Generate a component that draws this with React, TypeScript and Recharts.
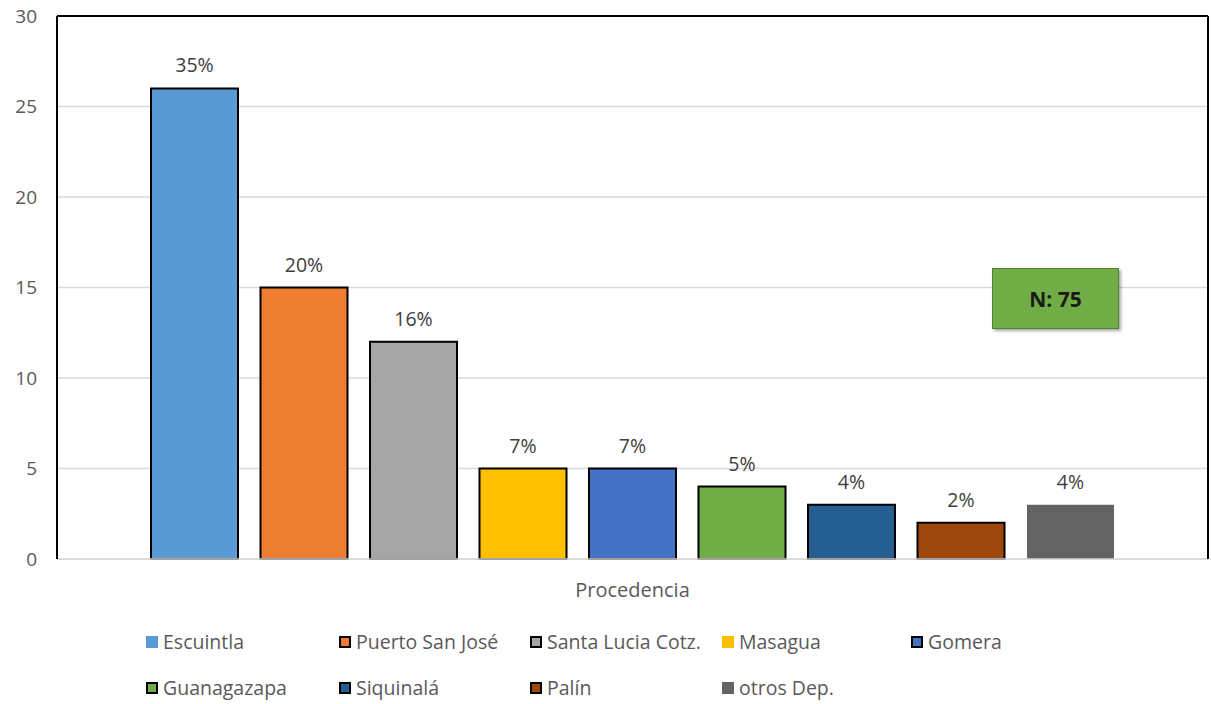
import { BarChart, Bar, XAxis, YAxis, CartesianGrid, Legend, LabelList, ReferenceLine } from "recharts";

const names = ["Escuintla", "Puerto San José", "Santa Lucia Cotz.", "Masagua", "Gomera", "Guanagazapa", "Siquinalá", "Palín", "otros Dep."];
const counts = [26, 15, 12, 5, 5, 4, 3, 2, 3];
const pcts = ["35%", "20%", "16%", "7%", "7%", "5%", "4%", "2%", "4%"];
const colors = ["#5B9BD5", "#ED7D31", "#A5A5A5", "#FFC000", "#4472C4", "#70AD47", "#255E91", "#9E480E", "#636363"];
const barBorder = [true, true, true, true, true, true, true, true, false];
const legendBorder = [false, true, true, false, true, true, true, true, false];
const yTicks = [0, 5, 10, 15, 20, 25, 30];
const category = "Procedencia";

const row: Record<string, string | number> = { name: category };
names.forEach((n, i) => {
  row[`s${i}`] = counts[i];
});
const data = [row];

const font = "'Open Sans', sans-serif";

function LegendBox() {
  const colX = [146, 339, 530, 722, 911];
  return (
    <div style={{ position: "relative", width: 1211, height: 95, fontFamily: font }}>
      {names.map((n, i) => {
        const r = Math.floor(i / 5);
        const c = i % 5;
        return (
          <div
            key={n}
            style={{ position: "absolute", left: colX[c], top: 20 + r * 46, display: "flex", alignItems: "center", whiteSpace: "nowrap", lineHeight: "26px" }}
          >
            <span
              style={{
                display: "inline-block",
                width: 12,
                height: 12,
                background: colors[i],
                boxSizing: "border-box",
                border: legendBorder[i] ? "2px solid #000" : "none",
                marginRight: 5,
              }}
            />
            <span style={{ fontSize: 19.5, color: "#595959" }}>{n}</span>
          </div>
        );
      })}
    </div>
  );
}

export default function App() {
  return (
    <div style={{ position: "absolute", left: 0, top: 0, width: 1211, height: 704, background: "#fff" }}>
      <BarChart
        width={1211}
        height={704}
        data={data}
        margin={{ top: 16, right: 0, bottom: 0, left: 0 }}
        barSize={87}
        barGap={22.5}
        barCategoryGap={94}
      >
        <CartesianGrid vertical={false} stroke="#d9d9d9" strokeWidth={1.5} />
        <XAxis
          dataKey="name"
          tickLine={false}
          axisLine={{ stroke: "#d9d9d9", strokeWidth: 1.5 }}
          height={50}
          tick={{ fontSize: 20, fill: "#595959", fontFamily: font }}
          tickMargin={18}
        />
        <YAxis
          domain={[0, 30]}
          ticks={yTicks}
          tickLine={false}
          axisLine={{ stroke: "#000", strokeWidth: 2 }}
          width={57}
          tick={{ fontSize: 19, fill: "#595959", fontFamily: font }}
          tickMargin={14}
        />
        <YAxis yAxisId="right" orientation="right" width={3} tick={false} tickLine={false} axisLine={{ stroke: "#000", strokeWidth: 2 }} domain={[0, 30]} />
        <ReferenceLine y={30} stroke="#000" strokeWidth={2} />
        {names.map((n, i) => (
          <Bar
            key={n}
            dataKey={`s${i}`}
            name={n}
            fill={colors[i]}
            stroke={barBorder[i] ? "#000" : "none"}
            strokeWidth={2}
            isAnimationActive={false}
          >
            <LabelList
              dataKey={`s${i}`}
              position="top"
              offset={16}
              formatter={() => pcts[i]}
              style={{ fontSize: 19.5, fill: "#404040", fontFamily: font }}
            />
          </Bar>
        ))}
        <Legend verticalAlign="bottom" height={95} wrapperStyle={{ left: 0, width: 1211 }} content={() => <LegendBox />} />
      </BarChart>
      <div
        style={{
          position: "absolute",
          left: 992,
          top: 268,
          width: 127,
          height: 61,
          boxSizing: "border-box",
          background: "#70AD47",
          border: "1px solid #548235",
          boxShadow: "2px 2px 3px rgba(0,0,0,0.35)",
          display: "flex",
          alignItems: "center",
          justifyContent: "center",
          fontFamily: font,
          fontWeight: 700,
          fontSize: 21,
          color: "#1a1a1a",
        }}
      >
        N: 75
      </div>
    </div>
  );
}
